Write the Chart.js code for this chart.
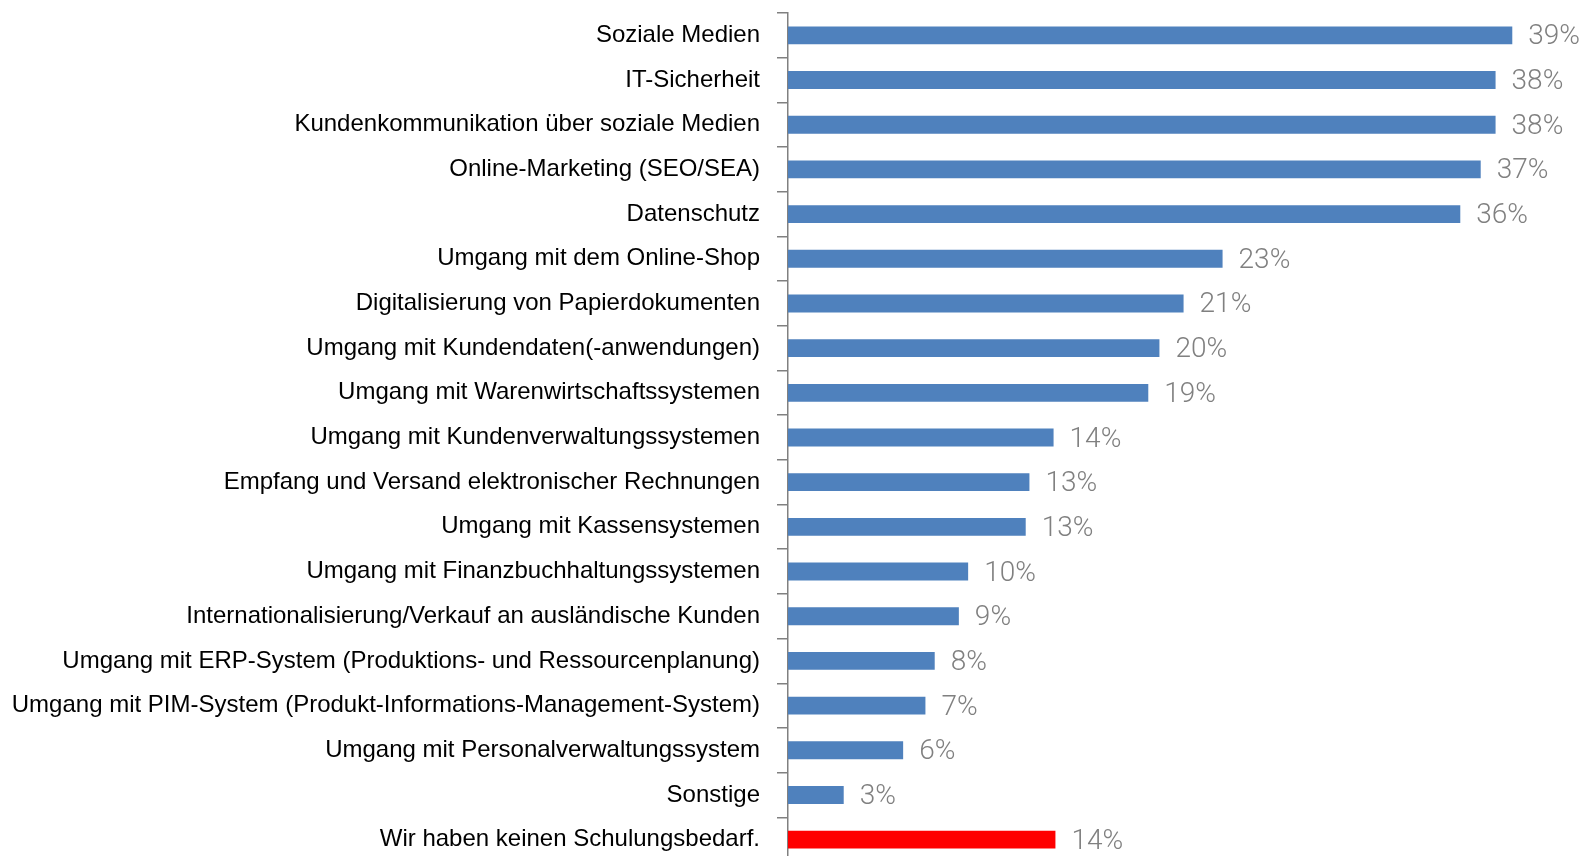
<!DOCTYPE html>
<html>
<head>
<meta charset="utf-8">
<script src="https://cdn.jsdelivr.net/npm/chart.js@4"></script>
<style>
  html, body { margin: 0; padding: 0; background: #fff; overflow: hidden; }
  #wrap { width: 1587px; height: 870px; position: relative; }
</style>
</head>
<body>
<div id="wrap"><canvas id="chart"></canvas></div>
<script>
const categories = [
    'Soziale Medien',
    'IT-Sicherheit',
    'Kundenkommunikation über soziale Medien',
    'Online-Marketing (SEO/SEA)',
    'Datenschutz',
    'Umgang mit dem Online-Shop',
    'Digitalisierung von Papierdokumenten',
    'Umgang mit Kundendaten(-anwendungen)',
    'Umgang mit Warenwirtschaftssystemen',
    'Umgang mit Kundenverwaltungssystemen',
    'Empfang und Versand elektronischer Rechnungen',
    'Umgang mit Kassensystemen',
    'Umgang mit Finanzbuchhaltungssystemen',
    'Internationalisierung/Verkauf an ausländische Kunden',
    'Umgang mit ERP-System (Produktions- und Ressourcenplanung)',
    'Umgang mit PIM-System (Produkt-Informations-Management-System)',
    'Umgang mit Personalverwaltungssystem',
    'Sonstige',
    'Wir haben keinen Schulungsbedarf.'
];
// share in percent
const values = [39.0, 38.1, 38.1, 37.3, 36.2, 23.4, 21.3, 20.0, 19.4, 14.3, 13.0, 12.8, 9.7, 9.2, 7.9, 7.4, 6.2, 3.0, 14.4];
const barColors = values.map((v, i) => i === values.length - 1 ? '#ff0000' : '#4f81bd');

// value labels right of each bar
const valueLabels = {
    id: 'valueLabels',
    afterDatasetsDraw(chart) {
        const ctx = chart.ctx;
        const meta = chart.getDatasetMeta(0);
        ctx.save();
        ctx.font = '300 28px Roboto';
        ctx.fillStyle = '#808080';
        ctx.textAlign = 'left';
        ctx.textBaseline = 'middle';
        meta.data.forEach((bar, i) => {
            ctx.fillText(Math.round(values[i]) + '%', bar.x + 16, bar.y + 2);
        });
        ctx.restore();
    }
};

new Chart(document.getElementById('chart'), {
    type: 'bar',
    data: {
        labels: categories,
        datasets: [{ data: values, backgroundColor: barColors, categoryPercentage: 1, barPercentage: 0.4 }]
    },
    options: {
        indexAxis: 'y',
        responsive: true,
        maintainAspectRatio: false,
        animation: false,
        devicePixelRatio: 1,
        layout: { padding: { top: 13, right: 19, bottom: 8, left: 0 } },
        plugins: { legend: { display: false }, tooltip: { enabled: false } },
        scales: {
            x: { display: false, min: 0, max: 42 },
            y: {
                afterFit(scale) {
                    scale.width = 788;
                    scale.paddingTop = 0;
                    scale.paddingBottom = 0;
                },
                grid: { drawOnChartArea: false, tickLength: 11, color: '#808080', lineWidth: 1.5, offset: true },
                border: { display: true, color: '#808080', width: 1.5 },
                ticks: { padding: 17, color: '#000', font: { family: 'Liberation Sans', size: 24 }, autoSkip: false }
            }
        }
    },
    plugins: [valueLabels]
});
</script>
</body>
</html>
